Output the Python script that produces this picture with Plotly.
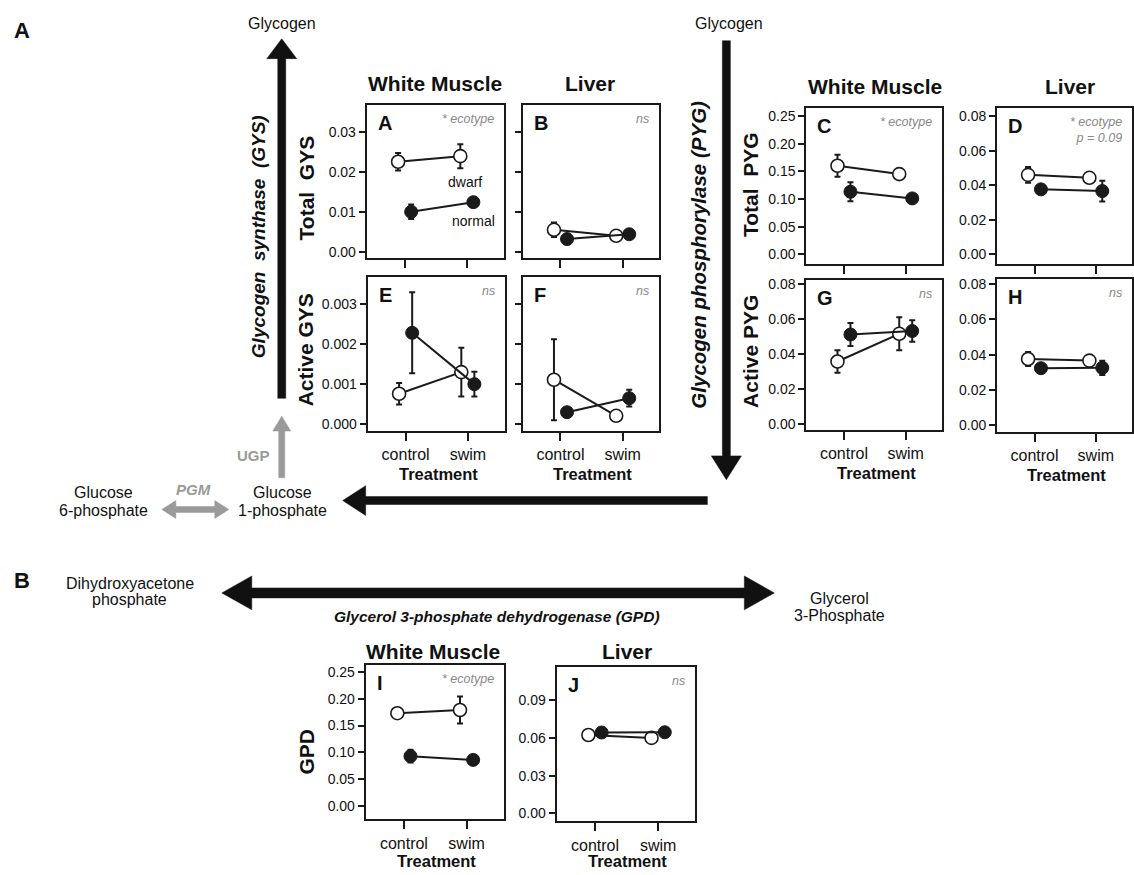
import plotly.graph_objects as go

W, H = 1134, 875
FONT = "Liberation Sans, Arial, sans-serif"

# ---------------- data ----------------
treatments = ["control", "swim"]

gys_total_muscle_dwarf = [0.0226, 0.0240]
gys_total_muscle_dwarf_se = [0.0022, 0.0030]
gys_total_muscle_normal = [0.0101, 0.0125]
gys_total_muscle_normal_se = [0.0018, 0.0005]

gys_total_liver_dwarf = [0.0056, 0.0041]
gys_total_liver_dwarf_se = [0.0018, 0.0004]
gys_total_liver_normal = [0.0033, 0.0045]
gys_total_liver_normal_se = [0.0005, 0.0004]

gys_active_muscle_dwarf = [0.00076, 0.00130]
gys_active_muscle_dwarf_se = [0.00027, 0.00061]
gys_active_muscle_normal = [0.00228, 0.00100]
gys_active_muscle_normal_se = [0.00101, 0.00031]

gys_active_liver_dwarf = [0.00111, 0.00021]
gys_active_liver_dwarf_se = [0.00101, 0.00010]
gys_active_liver_normal = [0.00030, 0.00065]
gys_active_liver_normal_se = [0.00008, 0.00021]

pyg_total_muscle_dwarf = [0.160, 0.145]
pyg_total_muscle_dwarf_se = [0.020, 0.009]
pyg_total_muscle_normal = [0.113, 0.101]
pyg_total_muscle_normal_se = [0.017, 0.004]

pyg_total_liver_dwarf = [0.0460, 0.0443]
pyg_total_liver_dwarf_se = [0.0046, 0.0010]
pyg_total_liver_normal = [0.0376, 0.0366]
pyg_total_liver_normal_se = [0.0010, 0.0060]

pyg_active_muscle_dwarf = [0.0358, 0.0516]
pyg_active_muscle_dwarf_se = [0.0064, 0.0094]
pyg_active_muscle_normal = [0.0512, 0.0532]
pyg_active_muscle_normal_se = [0.0066, 0.0061]

pyg_active_liver_dwarf = [0.0375, 0.0366]
pyg_active_liver_dwarf_se = [0.0040, 0.0010]
pyg_active_liver_normal = [0.0323, 0.0325]
pyg_active_liver_normal_se = [0.0010, 0.0040]

gpd_muscle_dwarf = [0.173, 0.179]
gpd_muscle_dwarf_se = [0.008, 0.025]
gpd_muscle_normal = [0.093, 0.086]
gpd_muscle_normal_se = [0.012, 0.004]

gpd_liver_dwarf = [0.0623, 0.0600]
gpd_liver_dwarf_se = [0.0015, 0.0030]
gpd_liver_normal = [0.0643, 0.0645]
gpd_liver_normal_se = [0.0030, 0.0015]

# ---------------- helpers ----------------
def X(px):
    return px / W

def Y(py):
    return 1 - py / H

DODGE = 0.105
XR = [0.39, 2.59]

panels = [
    dict(letter="A", box=(367, 504, 102, 256), yr=[-0.0015, 0.0367], tv=[0, 0.01, 0.02, 0.03], fmt=".2f",
         ylab=True, xlab=False, note="* ecotype",
         d=(gys_total_muscle_dwarf, gys_total_muscle_dwarf_se, gys_total_muscle_normal, gys_total_muscle_normal_se)),
    dict(letter="B", box=(523, 660, 102, 256), yr=[-0.0015, 0.0367], tv=[0, 0.01, 0.02, 0.03], fmt=".2f",
         ylab=False, xlab=False, note="ns",
         d=(gys_total_liver_dwarf, gys_total_liver_dwarf_se, gys_total_liver_normal, gys_total_liver_normal_se)),
    dict(letter="E", box=(368, 505, 275, 430), yr=[-0.00017, 0.00367], tv=[0, 0.001, 0.002, 0.003], fmt=".3f",
         ylab=True, xlab=True, note="ns",
         d=(gys_active_muscle_dwarf, gys_active_muscle_dwarf_se, gys_active_muscle_normal, gys_active_muscle_normal_se)),
    dict(letter="F", box=(523, 660, 275, 430), yr=[-0.00017, 0.00367], tv=[0, 0.001, 0.002, 0.003], fmt=".3f",
         ylab=False, xlab=True, note="ns",
         d=(gys_active_liver_dwarf, gys_active_liver_dwarf_se, gys_active_liver_normal, gys_active_liver_normal_se)),
    dict(letter="C", box=(807, 943, 105, 262), yr=[-0.018, 0.264], tv=[0, 0.05, 0.10, 0.15, 0.20, 0.25], fmt=".2f",
         ylab=True, xlab=False, note="* ecotype",
         d=(pyg_total_muscle_dwarf, pyg_total_muscle_dwarf_se, pyg_total_muscle_normal, pyg_total_muscle_normal_se)),
    dict(letter="D", box=(998, 1133, 105, 262), yr=[-0.0058, 0.0846], tv=[0, 0.02, 0.04, 0.06, 0.08], fmt=".2f",
         ylab=True, xlab=False, note="* ecotype<br>p = 0.09",
         d=(pyg_total_liver_dwarf, pyg_total_liver_dwarf_se, pyg_total_liver_normal, pyg_total_liver_normal_se)),
    dict(letter="G", box=(807, 943, 278, 429), yr=[-0.0034, 0.0823], tv=[0, 0.02, 0.04, 0.06, 0.08], fmt=".2f",
         ylab=True, xlab=True, note="ns",
         d=(pyg_active_muscle_dwarf, pyg_active_muscle_dwarf_se, pyg_active_muscle_normal, pyg_active_muscle_normal_se)),
    dict(letter="H", box=(998, 1133, 277, 431), yr=[-0.0039, 0.0828], tv=[0, 0.02, 0.04, 0.06, 0.08], fmt=".2f",
         ylab=True, xlab=True, note="ns",
         d=(pyg_active_liver_dwarf, pyg_active_liver_dwarf_se, pyg_active_liver_normal, pyg_active_liver_normal_se)),
    dict(letter="I", box=(366, 504, 666, 821), yr=[-0.0248, 0.262], tv=[0, 0.05, 0.10, 0.15, 0.20, 0.25], fmt=".2f",
         ylab=True, xlab=True, note="* ecotype",
         d=(gpd_muscle_dwarf, gpd_muscle_dwarf_se, gpd_muscle_normal, gpd_muscle_normal_se)),
    dict(letter="J", box=(557, 696, 668, 823), yr=[-0.0063, 0.116], tv=[0, 0.03, 0.06, 0.09], fmt=".2f",
         ylab=True, xlab=True, note="ns",
         d=(gpd_liver_dwarf, gpd_liver_dwarf_se, gpd_liver_normal, gpd_liver_normal_se)),
]

fig = go.Figure()
annotations = []
shapes = []
LINEC = "#1a1a1a"

for i, p in enumerate(panels, start=1):
    x0, x1, y0, y1 = p["box"]
    xa, ya = f"x{i}", f"y{i}"
    dw, dwse, nm, nmse = p["d"]
    xs = [k + 1 for k in range(len(treatments))]
    # dwarf ecotype (open circles)
    fig.add_trace(go.Scatter(
        x=[v - DODGE for v in xs], y=dw, xaxis=xa, yaxis=ya, mode="lines+markers",
        line=dict(color=LINEC, width=2),
        marker=dict(size=13, color="white", line=dict(color=LINEC, width=1.6)),
        error_y=dict(type="data", array=dwse, color=LINEC, thickness=2, width=3),
        showlegend=False, hoverinfo="skip"))
    # normal ecotype (filled circles)
    fig.add_trace(go.Scatter(
        x=[v + DODGE for v in xs], y=nm, xaxis=xa, yaxis=ya, mode="lines+markers",
        line=dict(color=LINEC, width=2),
        marker=dict(size=13, color=LINEC, line=dict(color=LINEC, width=1)),
        error_y=dict(type="data", array=nmse, color=LINEC, thickness=2, width=3),
        showlegend=False, hoverinfo="skip"))

    axis_common = dict(showline=True, mirror=True, linecolor=LINEC, linewidth=2,
                       ticks="outside", tickwidth=2, tickcolor=LINEC, showgrid=False,
                       zeroline=False, fixedrange=True)
    fig.layout[f"xaxis{i}"] = dict(
        domain=[X(x0), X(x1)], anchor=ya, range=XR, tickvals=xs, ticktext=treatments,
        showticklabels=p["xlab"], ticklen=8, tickfont=dict(family=FONT, size=16, color="#111"),
        **axis_common)
    fig.layout[f"yaxis{i}"] = dict(
        domain=[Y(y1), Y(y0)], anchor=xa, range=p["yr"], tickvals=p["tv"], tickformat=p["fmt"],
        showticklabels=p["ylab"], ticklen=6, tickfont=dict(family=FONT, size=14, color="#111"),
        **axis_common)

    annotations.append(dict(x=X(x0 + 9), y=Y(y0 + 5), xref="paper", yref="paper", text=f"<b>{p['letter']}</b>",
                            showarrow=False, xanchor="left", yanchor="top",
                            font=dict(family=FONT, size=20, color="#111")))
    annotations.append(dict(x=X(x1 - 8), y=Y(y0 + 5), xref="paper", yref="paper", text=f"<i>{p['note']}</i>",
                            showarrow=False, xanchor="right", yanchor="top", align="right",
                            font=dict(family=FONT, size=12.5, color="#888")))
    if p["xlab"]:
        ty = min(y1 + 43, 863)
        annotations.append(dict(x=X((x0 + x1) / 2 + 2), y=Y(ty), xref="paper", yref="paper",
                                text="<b>Treatment</b>", showarrow=False, xanchor="center", yanchor="middle",
                                font=dict(family=FONT, size=16.5, color="#111")))

def text(px, py, t, size=17, color="#111", angle=0, xanchor="center"):
    annotations.append(dict(x=X(px), y=Y(py), xref="paper", yref="paper", text=t, showarrow=False,
                            xanchor=xanchor, yanchor="middle", textangle=angle,
                            font=dict(family=FONT, size=size, color=color)))

# column headers
text(435, 80, "<b>White Muscle</b>", 21)
text(591, 80, "<b>Liver</b>", 21)
text(876, 83, "<b>White Muscle</b>", 21)
text(1071, 83, "<b>Liver</b>", 21)
text(433, 652, "<b>White Muscle</b>", 21)
text(628, 652, "<b>Liver</b>", 21)

# y-axis titles
text(307, 185, "<b>Total  GYS</b>", 21, angle=-90)
text(306, 348, "<b>Active GYS</b>", 21, angle=-90)
text(751, 182, "<b>Total  PYG</b>", 21, angle=-90)
text(751, 350, "<b>Active PYG</b>", 21, angle=-90)
text(307, 753, "<b>GPD</b>", 21, angle=-90)

# ecotype labels inside panel A
text(465, 179, "dwarf", 14)
text(474, 218, "normal", 14)

# pathway diagram text
text(22, 27, "<b>A</b>", 22)
text(22, 580, "<b>B</b>", 22)
text(282, 20, "Glycogen", 16)
text(730, 20, "Glycogen", 16)
text(259, 234, "<b><i>Glycogen  synthase  (GYS)</i></b>", 19, angle=-90)
text(699, 252, "<b><i>Glycogen phosphorylase (PYG)</i></b>", 20.5, angle=-90)
text(254, 455, "<b>UGP</b>", 15, color="#999")
text(194, 489, "<b><i>PGM</i></b>", 15, color="#999")
text(283, 492, "Glucose", 16)
text(283, 510, "1-phosphate", 16)
text(104, 492, "Glucose", 16)
text(104, 510, "6-phosphate", 16)
text(130, 583, "Dihydroxyacetone", 16)
text(130, 600, "phosphate", 16)
text(840, 599, "Glycerol", 16)
text(840, 616, "3-Phosphate", 16)
text(497, 617, "<b><i>Glycerol 3-phosphate dehydrogenase (GPD)</i></b>", 15.5)

# arrows (shapes in paper coords)
def poly(pts, color):
    path = "M " + " L ".join(f"{X(a):.5f},{Y(b):.5f}" for a, b in pts) + " Z"
    shapes.append(dict(type="path", path=path, xref="paper", yref="paper",
                       fillcolor=color, line=dict(color=color, width=0.5)))

BLK = "#111111"
GRY = "#9a9a9a"
poly([(278, 397), (286, 397), (286, 55), (297, 55), (282, 35), (267, 55), (278, 55)], BLK)
poly([(279, 477), (285, 477), (285, 430), (291, 430), (282, 415), (273, 430), (279, 430)], GRY)
poly([(723, 37), (731, 37), (731, 455), (742, 455), (727, 479), (712, 455), (723, 455)], BLK)
poly([(708, 496), (708, 504), (366, 504), (366, 515), (343, 500), (366, 485), (366, 496)], BLK)
poly([(162, 509), (176, 500), (176, 506), (215, 506), (215, 500), (229, 509), (215, 518), (215, 512),
      (176, 512), (176, 518)], GRY)
poly([(222, 593), (252, 576), (252, 588), (745, 588), (745, 576), (775, 593), (745, 610), (745, 598),
      (252, 598), (252, 610)], BLK)

fig.update_layout(width=W, height=H, margin=dict(l=0, r=0, t=0, b=0),
                  paper_bgcolor="white", plot_bgcolor="white", showlegend=False,
                  annotations=annotations, shapes=shapes, font=dict(family=FONT))

fig.write_html("out.html", config={"displayModeBar": False},
               post_script="document.body.style.margin='0';document.body.style.overflow='hidden';")
